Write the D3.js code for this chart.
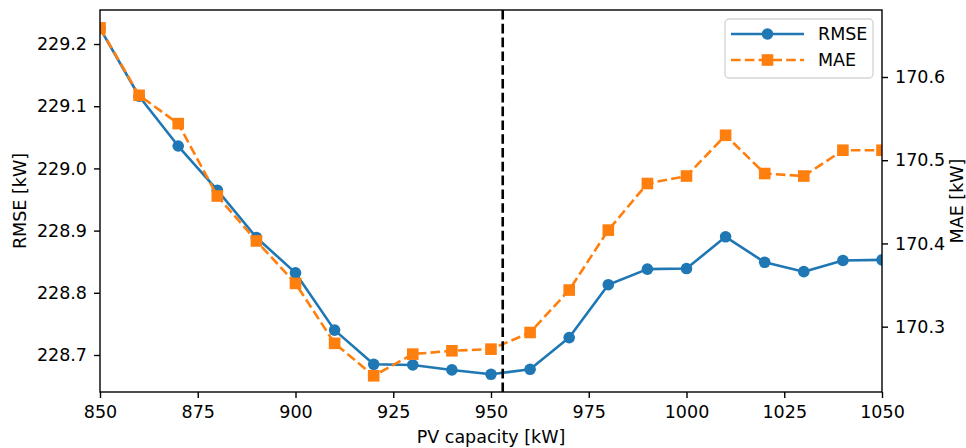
<!DOCTYPE html>
<html>
<head>
<meta charset="utf-8">
<script src="https://cdn.jsdelivr.net/npm/d3@7"></script>
<style>
  body { margin: 0; background: #fff; }
  svg text { font-family: "DejaVu Sans", sans-serif; fill: #000; }
</style>
</head>
<body>
<svg id="chart" width="966" height="448"></svg>
<script>
// PV capacity sweep
var capacity = [850, 860, 870, 880, 890, 900, 910, 920, 930, 940, 950,
                960, 970, 980, 990, 1000, 1010, 1020, 1030, 1040, 1050];
var rmse = [229.225, 229.116, 229.036, 228.965, 228.889, 228.832, 228.740, 228.685, 228.684, 228.676, 228.669,
            228.677, 228.728, 228.813, 228.838, 228.839, 228.890, 228.849, 228.834, 228.852, 228.853];
var mae = [170.659, 170.578, 170.544, 170.457, 170.403, 170.352, 170.280, 170.241, 170.267, 170.271, 170.273,
           170.293, 170.344, 170.416, 170.472, 170.481, 170.530, 170.484, 170.481, 170.512, 170.512];
var xTicks = [850, 875, 900, 925, 950, 975, 1000, 1025, 1050];
var rmseTicks = [228.7, 228.8, 228.9, 229.0, 229.1, 229.2];
var maeTicks = [170.3, 170.4, 170.5, 170.6];
var optimum = 953;

var margin = {left: 100, top: 10, right: 84, bottom: 56},
	W = 966, H = 448,
	w = W - margin.left - margin.right,
	h = H - margin.top - margin.bottom;

var blue = '#1f77b4', orange = '#ff7f0e';
var fs = 17.5;

var svg = d3.select('#chart');
var g = svg.append('g').attr('transform', 'translate(' + margin.left + ',' + margin.top + ')');

var x = d3.scaleLinear().domain([850, 1050]).range([0, w]);
var yL = d3.scaleLinear().domain([228.6405, 229.2547]).range([h, 0]);
var yR = d3.scaleLinear().domain([170.2215, 170.6805]).range([h, 0]);

g.append('clipPath').attr('id', 'clip')
	.append('rect').attr('width', w).attr('height', h);

// axes
function styleAxis(sel) {
	sel.selectAll('.domain').remove();
	sel.selectAll('.tick line').attr('stroke', '#000').attr('stroke-width', 1.4);
	sel.selectAll('.tick text').attr('font-size', fs).attr('font-family', '"DejaVu Sans", sans-serif');
}

g.append('g').attr('transform', 'translate(0,' + h + ')')
	.call(d3.axisBottom(x).tickValues(xTicks).tickFormat(d3.format('d')).tickSize(6).tickPadding(8))
	.call(styleAxis);

g.append('g')
	.call(d3.axisLeft(yL).tickValues(rmseTicks).tickFormat(d3.format('.1f')).tickSize(6).tickPadding(7))
	.call(styleAxis);

g.append('g').attr('transform', 'translate(' + w + ',0)')
	.call(d3.axisRight(yR).tickValues(maeTicks).tickFormat(d3.format('.1f')).tickSize(6).tickPadding(7))
	.call(styleAxis);

// axis labels
g.append('text').attr('x', w / 2).attr('y', h + 51).attr('text-anchor', 'middle')
	.attr('font-size', fs).text('PV capacity [kW]');
g.append('text').attr('transform', 'translate(' + (-74) + ',' + (h / 2) + ') rotate(-90)')
	.attr('text-anchor', 'middle').attr('font-size', fs).text('RMSE [kW]');
g.append('text').attr('transform', 'translate(' + (w + 81) + ',' + (h / 2) + ') rotate(-90)')
	.attr('text-anchor', 'middle').attr('font-size', fs).text('MAE [kW]');

var plot = g.append('g').attr('clip-path', 'url(#clip)');

// RMSE (left axis)
var lineL = d3.line().x(function(d, i) { return x(capacity[i]); }).y(function(d) { return yL(d); });
plot.append('path').datum(rmse).attr('d', lineL)
	.attr('fill', 'none').attr('stroke', blue).attr('stroke-width', 2.6).attr('stroke-linejoin', 'round');
plot.selectAll('.dotL').data(rmse).enter().append('circle')
	.attr('cx', function(d, i) { return x(capacity[i]); })
	.attr('cy', function(d) { return yL(d); })
	.attr('r', 5.8).attr('fill', blue);

// MAE (right axis)
var lineR = d3.line().x(function(d, i) { return x(capacity[i]); }).y(function(d) { return yR(d); });
plot.append('path').datum(mae).attr('d', lineR)
	.attr('fill', 'none').attr('stroke', orange).attr('stroke-width', 2.6)
	.attr('stroke-dasharray', '9.6,4.2');
var sq = 11.6;
plot.selectAll('.dotR').data(mae).enter().append('rect')
	.attr('x', function(d, i) { return x(capacity[i]) - sq / 2; })
	.attr('y', function(d) { return yR(d) - sq / 2; })
	.attr('width', sq).attr('height', sq).attr('fill', orange);

// chosen capacity
g.append('line').attr('x1', x(optimum)).attr('x2', x(optimum)).attr('y1', 0).attr('y2', h)
	.attr('stroke', '#000').attr('stroke-width', 2.6).attr('stroke-dasharray', '9.6,4.2');

// frame
g.append('rect').attr('width', w).attr('height', h)
	.attr('fill', 'none').attr('stroke', '#000').attr('stroke-width', 1.4);

// legend
var lg = g.append('g').attr('transform', 'translate(' + (w - 157) + ',9)');
lg.append('rect').attr('width', 148).attr('height', 59).attr('rx', 4)
	.attr('fill', 'rgba(255,255,255,0.8)').attr('stroke', '#d5d5d5').attr('stroke-width', 1.4);
var items = [{key: 'RMSE', color: blue, dash: null, marker: 'circle'},
             {key: 'MAE', color: orange, dash: '9.6,4.2', marker: 'square'}];
var li = lg.selectAll('.legend').data(items).enter().append('g')
	.attr('transform', function(d, i) { return 'translate(6,' + (15 + i * 26) + ')'; });
li.append('line').attr('x1', 0).attr('x2', 73).attr('y1', 0).attr('y2', 0)
	.attr('stroke', function(d) { return d.color; }).attr('stroke-width', 2.6)
	.attr('stroke-dasharray', function(d) { return d.dash; });
li.each(function(d) {
	var s = d3.select(this);
	if (d.marker === 'circle') {
		s.append('circle').attr('cx', 36.5).attr('r', 5.8).attr('fill', d.color);
	} else {
		s.append('rect').attr('x', 36.5 - sq / 2).attr('y', -sq / 2)
			.attr('width', sq).attr('height', sq).attr('fill', d.color);
	}
});
li.append('text').attr('x', 87).attr('dy', '.36em').attr('font-size', fs)
	.text(function(d) { return d.key; });
</script>
</body>
</html>
